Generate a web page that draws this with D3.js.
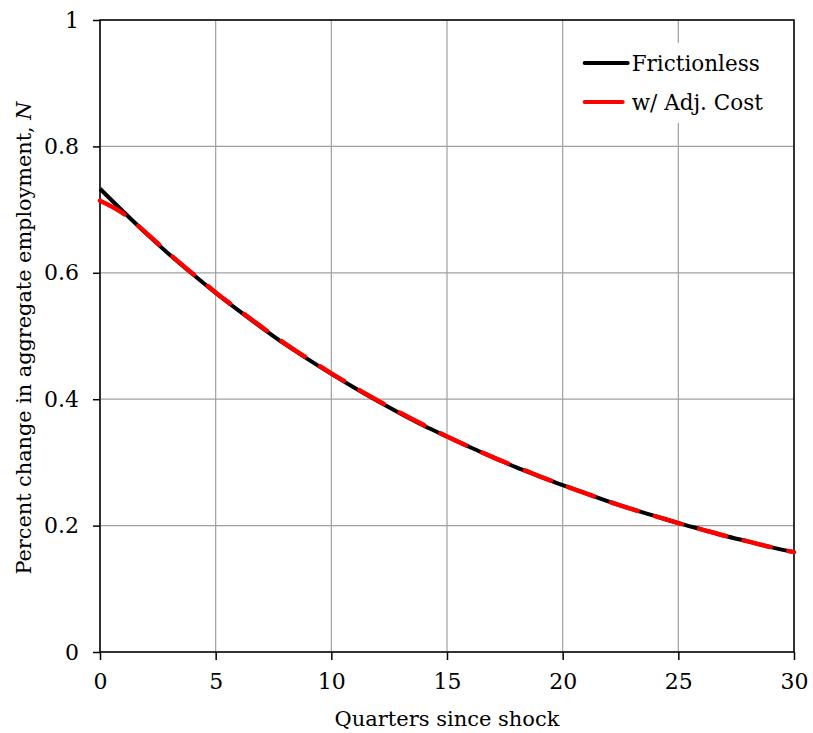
<!DOCTYPE html>
<html>
<head>
<meta charset="utf-8">
<script src="https://cdn.jsdelivr.net/npm/d3@7"></script>
<style>
  body { margin: 0; background: #fff; }
  text { font-family: "DejaVu Serif", serif; fill: #000; }
</style>
</head>
<body>
<div id="chart"></div>
<script>
// quarters since shock
const quarters = d3.range(0, 31);

// percent change in aggregate employment
const frictionless = [
  0.733, 0.697, 0.662, 0.629, 0.598, 0.568, 0.540, 0.513, 0.487, 0.463,
  0.440, 0.418, 0.397, 0.377, 0.358, 0.341, 0.324, 0.308, 0.292, 0.278,
  0.264, 0.251, 0.238, 0.226, 0.215, 0.204, 0.194, 0.184, 0.175, 0.166,
  0.158
];
const adjCost = [
  0.714, 0.694, 0.663, 0.630, 0.599, 0.569, 0.541, 0.514, 0.488, 0.464,
  0.441, 0.419, 0.398, 0.378, 0.359, 0.341, 0.324, 0.308, 0.293, 0.278,
  0.264, 0.251, 0.238, 0.226, 0.215, 0.204, 0.194, 0.184, 0.175, 0.166,
  0.158
];

const xTicks = [0, 5, 10, 15, 20, 25, 30];
const yTicks = [0, 0.2, 0.4, 0.6, 0.8, 1];
const seriesNames = ['Frictionless', 'w/ Adj. Cost'];

const W = 813, H = 733;
const margin = { top: 20, right: 19, bottom: 81, left: 100 };
const iw = W - margin.left - margin.right;
const ih = H - margin.top - margin.bottom;

const svg = d3.select('#chart').append('svg')
  .attr('width', W).attr('height', H);

const g = svg.append('g')
  .attr('transform', `translate(${margin.left},${margin.top})`);

const x = d3.scaleLinear().domain([0, 30]).range([0, iw]);
const y = d3.scaleLinear().domain([0, 1]).range([ih, 0]);

// gridlines
g.append('g').selectAll('line')
  .data(xTicks).join('line')
  .attr('x1', d => x(d)).attr('x2', d => x(d))
  .attr('y1', 0).attr('y2', ih)
  .attr('stroke', '#a0a0a0').attr('stroke-width', 1.2);
g.append('g').selectAll('line')
  .data(yTicks).join('line')
  .attr('x1', 0).attr('x2', iw)
  .attr('y1', d => y(d)).attr('y2', d => y(d))
  .attr('stroke', '#a0a0a0').attr('stroke-width', 1.2);

// axes
const xAxis = g.append('g')
  .attr('transform', `translate(0,${ih})`)
  .call(d3.axisBottom(x).tickValues(xTicks).tickSize(8).tickPadding(13).tickFormat(d3.format('d')));
const yAxis = g.append('g')
  .call(d3.axisLeft(y).tickValues(yTicks).tickSize(7).tickPadding(14).tickFormat(d => d === 0 || d === 1 ? d : d3.format('.1f')(d)));

[xAxis, yAxis].forEach(a => {
  a.select('.domain').remove();
  a.selectAll('line').attr('stroke', '#000').attr('stroke-width', 1.5);
  a.selectAll('text').attr('font-size', 22).attr('font-family', '"DejaVu Serif", serif');
});

// plot border
g.append('rect')
  .attr('width', iw).attr('height', ih)
  .attr('fill', 'none').attr('stroke', '#000').attr('stroke-width', 1.5);

// lines
const line = d3.line().x((d, i) => x(quarters[i])).y(d => y(d)).curve(d3.curveMonotoneX);

g.append('path').datum(frictionless)
  .attr('d', line).attr('fill', 'none')
  .attr('stroke', '#000').attr('stroke-width', 4);
g.append('path').datum(adjCost)
  .attr('d', line).attr('fill', 'none')
  .attr('stroke', '#ff0000').attr('stroke-width', 4.5)
  .attr('stroke-dasharray', '28,18').attr('stroke-linecap', 'round');

// legend
const leg = g.append('g').attr('transform', `translate(${x(20) + 12},${23})`);
leg.append('rect').attr('width', 205).attr('height', 80).attr('fill', '#fff');
const colors = ['#000', '#ff0000'];
seriesNames.forEach((name, i) => {
  const row = leg.append('g').attr('transform', `translate(0,${20 + i * 39})`);
  row.append('line').attr('x1', 10).attr('x2', i === 0 ? 53 : 48)
    .attr('stroke', colors[i]).attr('stroke-width', 4).attr('stroke-linecap', 'round');
  row.append('text').attr('x', 57).attr('y', 7.5)
    .attr('font-size', 21.5).text(name);
});

// axis titles
g.append('text')
  .attr('x', iw / 2).attr('y', ih + 74)
  .attr('text-anchor', 'middle').attr('font-size', 21)
  .text('Quarters since shock');

const yt = g.append('text')
  .attr('transform', `translate(${-69},${ih / 2 + 2}) rotate(-90)`)
  .attr('text-anchor', 'middle').attr('font-size', 20.8);
yt.append('tspan').text('Percent change in aggregate employment, ');
yt.append('tspan').attr('font-style', 'italic').text('N');
</script>
</body>
</html>
